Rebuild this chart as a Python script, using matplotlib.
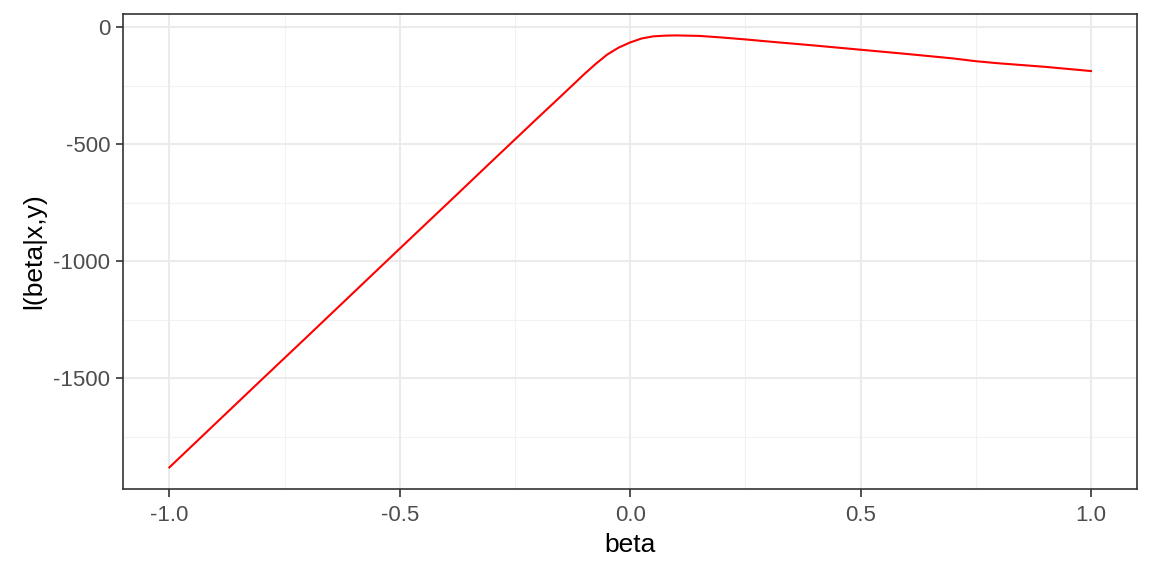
import matplotlib
matplotlib.use('Agg')
import matplotlib.pyplot as plt

plt.rcParams['font.family'] = ['Liberation Sans', 'DejaVu Sans']

# log-likelihood curve
beta = [-1.0, -0.9, -0.8, -0.7, -0.6, -0.5, -0.4, -0.3, -0.2, -0.15,
        -0.1, -0.075, -0.05, -0.025, 0.0, 0.025, 0.05, 0.075, 0.1, 0.15,
        0.2, 0.25, 0.3, 0.4, 0.5, 0.6, 0.7, 0.75, 0.8, 0.9, 1.0]
loglik = [-1880, -1693, -1506, -1320, -1133, -946, -760, -573, -387, -295,
          -202, -158, -118, -88, -66, -49, -40, -37, -36, -38,
          -45, -53, -62, -79, -97, -115, -134, -146, -155, -170, -188]

xticks = [-1.0, -0.5, 0.0, 0.5, 1.0]
xminor = [-0.75, -0.25, 0.25, 0.75]
yticks = [0, -500, -1000, -1500]
yminor = [-250, -750, -1250, -1750]

fig = plt.figure(figsize=(11.52, 5.76), dpi=100)
ax = fig.add_axes([0.107, 0.151, 0.880, 0.825])

# ggplot-like expansion (5 %)
xr = max(beta) - min(beta)
yr = max(loglik) - min(loglik)
ax.set_xlim(min(beta) - 0.05 * xr, max(beta) + 0.05 * xr)
ax.set_ylim(min(loglik) - 0.05 * yr, max(loglik) + 0.05 * yr)

for v in xminor:
    ax.axvline(v, color='#F2F2F2', linewidth=0.8, zorder=0)
for v in yminor:
    ax.axhline(v, color='#F2F2F2', linewidth=0.8, zorder=0)
for v in xticks:
    ax.axvline(v, color='#EBEBEB', linewidth=1.5, zorder=0)
for v in yticks:
    ax.axhline(v, color='#EBEBEB', linewidth=1.5, zorder=0)

ax.plot(beta, loglik, color='red', linewidth=1.5, zorder=2)

ax.set_xticks(xticks)
ax.set_xticklabels(['%.1f' % v for v in xticks])
ax.set_yticks(yticks)
ax.set_yticklabels(['%d' % v for v in yticks])
ax.tick_params(axis='both', direction='out', length=5.4, width=1.2,
               color='#333333', labelcolor='#4D4D4D', labelsize=16)
ax.tick_params(axis='x', pad=6)
ax.tick_params(axis='y', pad=4)
for s in ax.spines.values():
    s.set_color('#333333')
    s.set_linewidth(1.2)

ax.set_xlabel('beta', fontsize=19, color='black', labelpad=5)
ax.set_ylabel('l(beta|x,y)', fontsize=19, color='black', labelpad=5)

fig.savefig('out.png', dpi=100)
